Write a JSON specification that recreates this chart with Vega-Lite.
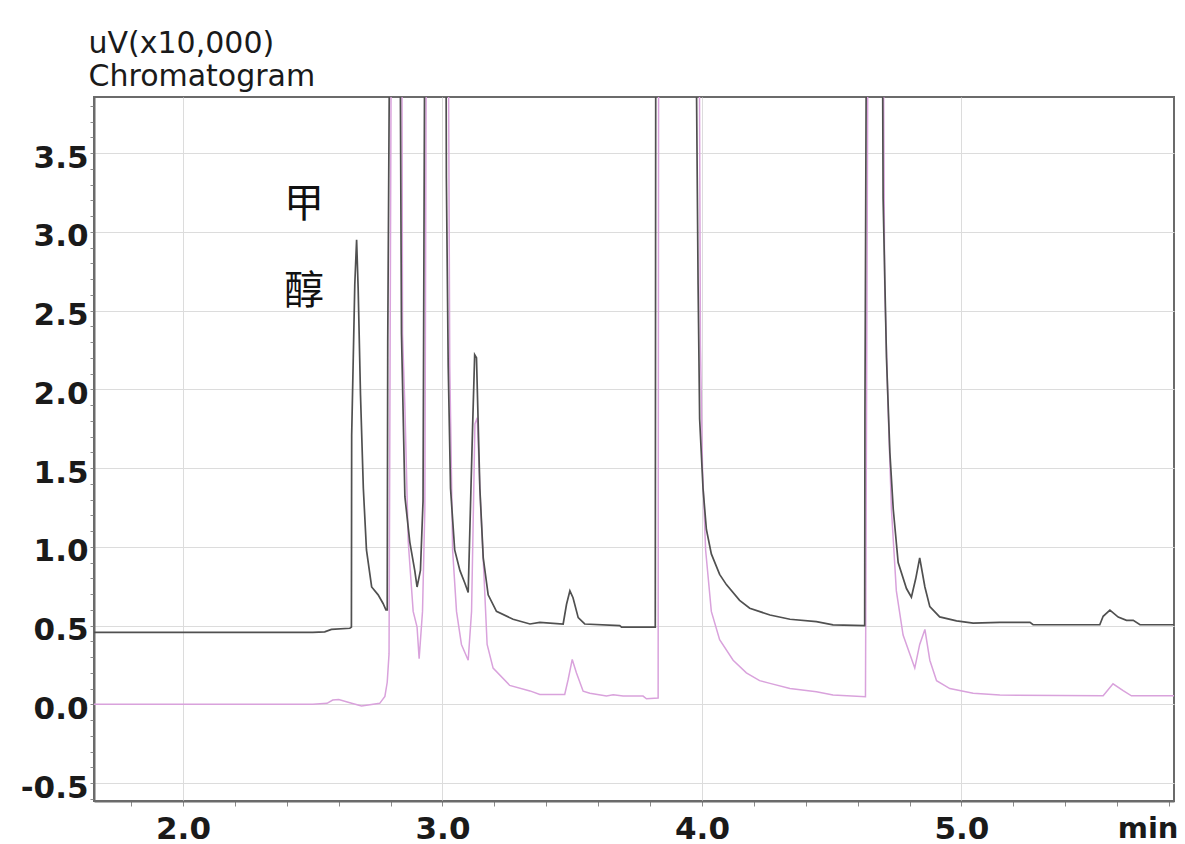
{
  "$schema": "https://vega.github.io/schema/vega-lite/v6.json",
  "autosize": {"type": "none"},
  "width": 1080,
  "height": 704,
  "padding": {"left": 94, "top": 97, "right": 11, "bottom": 43},
  "background": "white",
  "datasets": {
    "sample": [
      {"t": 1.657, "v": 0.457}, {"t": 2.5, "v": 0.457}, {"t": 2.546, "v": 0.46}, {"t": 2.572, "v": 0.476},
      {"t": 2.643, "v": 0.483}, {"t": 2.649, "v": 0.49}, {"t": 2.65, "v": 1.706}, {"t": 2.662, "v": 2.665},
      {"t": 2.669, "v": 2.95}, {"t": 2.675, "v": 2.64}, {"t": 2.684, "v": 1.965}, {"t": 2.695, "v": 1.37},
      {"t": 2.707, "v": 0.98}, {"t": 2.727, "v": 0.745}, {"t": 2.752, "v": 0.695}, {"t": 2.771, "v": 0.64},
      {"t": 2.782, "v": 0.6}, {"t": 2.787, "v": 0.6}, {"t": 2.789, "v": 2.3}, {"t": 2.797, "v": 4.5},
      {"t": 2.816, "v": 8}, {"t": 2.836, "v": 4.5}, {"t": 2.842, "v": 2.35}, {"t": 2.855, "v": 1.32},
      {"t": 2.874, "v": 1.03}, {"t": 2.893, "v": 0.85}, {"t": 2.902, "v": 0.745}, {"t": 2.915, "v": 0.85},
      {"t": 2.925, "v": 1.29}, {"t": 2.932, "v": 4.5}, {"t": 2.97, "v": 8}, {"t": 3.013, "v": 4.5},
      {"t": 3.015, "v": 3.34}, {"t": 3.022, "v": 2.15}, {"t": 3.031, "v": 1.37}, {"t": 3.047, "v": 0.98},
      {"t": 3.067, "v": 0.85}, {"t": 3.086, "v": 0.77}, {"t": 3.099, "v": 0.71}, {"t": 3.116, "v": 1.76},
      {"t": 3.124, "v": 2.22}, {"t": 3.131, "v": 2.2}, {"t": 3.144, "v": 1.37}, {"t": 3.157, "v": 0.93},
      {"t": 3.176, "v": 0.695}, {"t": 3.208, "v": 0.59}, {"t": 3.272, "v": 0.54}, {"t": 3.337, "v": 0.51},
      {"t": 3.375, "v": 0.52}, {"t": 3.465, "v": 0.51}, {"t": 3.478, "v": 0.635}, {"t": 3.491, "v": 0.72},
      {"t": 3.503, "v": 0.677}, {"t": 3.523, "v": 0.55}, {"t": 3.548, "v": 0.51}, {"t": 3.683, "v": 0.5},
      {"t": 3.69, "v": 0.49}, {"t": 3.82, "v": 0.49}, {"t": 3.822, "v": 4.5}, {"t": 3.9, "v": 8},
      {"t": 3.976, "v": 4.5}, {"t": 3.985, "v": 2.665}, {"t": 3.991, "v": 1.81}, {"t": 4.004, "v": 1.37},
      {"t": 4.017, "v": 1.11}, {"t": 4.036, "v": 0.955}, {"t": 4.068, "v": 0.825}, {"t": 4.094, "v": 0.76},
      {"t": 4.145, "v": 0.66}, {"t": 4.184, "v": 0.61}, {"t": 4.262, "v": 0.567}, {"t": 4.339, "v": 0.54},
      {"t": 4.441, "v": 0.525}, {"t": 4.505, "v": 0.504}, {"t": 4.627, "v": 0.5}, {"t": 4.628, "v": 1.85},
      {"t": 4.634, "v": 4.5}, {"t": 4.66, "v": 8}, {"t": 4.695, "v": 4.5}, {"t": 4.698, "v": 3.21},
      {"t": 4.711, "v": 2.2}, {"t": 4.724, "v": 1.6}, {"t": 4.737, "v": 1.24}, {"t": 4.756, "v": 0.9},
      {"t": 4.788, "v": 0.735}, {"t": 4.807, "v": 0.68}, {"t": 4.824, "v": 0.8}, {"t": 4.839, "v": 0.93},
      {"t": 4.859, "v": 0.745}, {"t": 4.878, "v": 0.62}, {"t": 4.916, "v": 0.555}, {"t": 4.981, "v": 0.53},
      {"t": 5.045, "v": 0.515}, {"t": 5.148, "v": 0.52}, {"t": 5.264, "v": 0.52}, {"t": 5.276, "v": 0.505},
      {"t": 5.533, "v": 0.505}, {"t": 5.546, "v": 0.559}, {"t": 5.572, "v": 0.598}, {"t": 5.604, "v": 0.554},
      {"t": 5.636, "v": 0.533}, {"t": 5.662, "v": 0.533}, {"t": 5.688, "v": 0.505}, {"t": 5.82, "v": 0.505}
    ],
    "standard": [
      {"t": 1.657, "v": 0.0}, {"t": 2.5, "v": 0.0}, {"t": 2.555, "v": 0.006}, {"t": 2.577, "v": 0.027},
      {"t": 2.6, "v": 0.03}, {"t": 2.643, "v": 0.01}, {"t": 2.688, "v": -0.01}, {"t": 2.758, "v": 0.006},
      {"t": 2.778, "v": 0.05}, {"t": 2.787, "v": 0.14}, {"t": 2.794, "v": 0.32}, {"t": 2.803, "v": 4.5},
      {"t": 2.823, "v": 8}, {"t": 2.843, "v": 4.5}, {"t": 2.846, "v": 2.35}, {"t": 2.855, "v": 1.89},
      {"t": 2.868, "v": 1.03}, {"t": 2.887, "v": 0.59}, {"t": 2.902, "v": 0.49}, {"t": 2.91, "v": 0.29},
      {"t": 2.923, "v": 0.59}, {"t": 2.932, "v": 1.24}, {"t": 2.938, "v": 4.5}, {"t": 2.98, "v": 8},
      {"t": 3.022, "v": 4.5}, {"t": 3.028, "v": 2.15}, {"t": 3.039, "v": 0.98}, {"t": 3.054, "v": 0.59},
      {"t": 3.073, "v": 0.38}, {"t": 3.099, "v": 0.28}, {"t": 3.112, "v": 0.59}, {"t": 3.125, "v": 1.78},
      {"t": 3.134, "v": 1.82}, {"t": 3.144, "v": 1.37}, {"t": 3.159, "v": 0.85}, {"t": 3.172, "v": 0.38},
      {"t": 3.195, "v": 0.23}, {"t": 3.259, "v": 0.12}, {"t": 3.337, "v": 0.085}, {"t": 3.375, "v": 0.0625},
      {"t": 3.471, "v": 0.0625}, {"t": 3.484, "v": 0.156}, {"t": 3.5, "v": 0.285}, {"t": 3.516, "v": 0.2},
      {"t": 3.542, "v": 0.083}, {"t": 3.568, "v": 0.07}, {"t": 3.632, "v": 0.052}, {"t": 3.658, "v": 0.06},
      {"t": 3.696, "v": 0.052}, {"t": 3.773, "v": 0.052}, {"t": 3.786, "v": 0.035}, {"t": 3.831, "v": 0.04},
      {"t": 3.833, "v": 4.5}, {"t": 3.91, "v": 8}, {"t": 3.989, "v": 4.5}, {"t": 3.994, "v": 2.28},
      {"t": 4.002, "v": 1.5}, {"t": 4.014, "v": 0.98}, {"t": 4.036, "v": 0.59}, {"t": 4.068, "v": 0.41},
      {"t": 4.12, "v": 0.28}, {"t": 4.171, "v": 0.2}, {"t": 4.222, "v": 0.15}, {"t": 4.262, "v": 0.133},
      {"t": 4.339, "v": 0.1}, {"t": 4.441, "v": 0.08}, {"t": 4.505, "v": 0.059}, {"t": 4.63, "v": 0.048},
      {"t": 4.64, "v": 4.5}, {"t": 4.67, "v": 8}, {"t": 4.698, "v": 4.5}, {"t": 4.704, "v": 2.665},
      {"t": 4.717, "v": 1.89}, {"t": 4.73, "v": 1.24}, {"t": 4.749, "v": 0.72}, {"t": 4.775, "v": 0.44},
      {"t": 4.82, "v": 0.23}, {"t": 4.839, "v": 0.38}, {"t": 4.859, "v": 0.475}, {"t": 4.878, "v": 0.28},
      {"t": 4.904, "v": 0.15}, {"t": 4.955, "v": 0.1}, {"t": 5.045, "v": 0.07}, {"t": 5.148, "v": 0.059},
      {"t": 5.546, "v": 0.054}, {"t": 5.584, "v": 0.13}, {"t": 5.623, "v": 0.087}, {"t": 5.655, "v": 0.054},
      {"t": 5.82, "v": 0.054}
    ],
    "labels": [
      {"t": 2.466, "v": 3.17, "txt": "甲"},
      {"t": 2.466, "v": 2.62, "txt": "醇"}
    ]
  },
  "encoding": {
    "x": {
      "field": "t", "type": "quantitative",
      "scale": {"domain": [1.657, 5.819], "nice": false, "zero": false},
      "axis": {
        "values": [1.8, 2.0, 2.2, 2.4, 2.6, 2.8, 3.0, 3.2, 3.4, 3.6, 3.8, 4.0, 4.2, 4.4, 4.6, 4.8, 5.0, 5.2, 5.4, 5.6, 5.8],
        "labelExpr": "abs(datum.value - round(datum.value)) < 0.001 ? format(datum.value, '.1f') : ''",
        "gridOpacity": {"condition": {"test": "abs(datum.value - round(datum.value)) < 0.001", "value": 1}, "value": 0},
        "tickSize": 5,
        "labelPadding": 8,
        "labelFlush": false,
        "labelOverlap": false,
        "title": "min",
        "titleFont": "DejaVu Sans", "titleFontWeight": "bold", "titleFontSize": 29, "titleColor": "#1a1a1a",
        "titleAnchor": "end", "titleAlign": "right", "titleBaseline": "alphabetic",
        "titleX": 1084, "titleY": 36
      }
    },
    "y": {
      "field": "v", "type": "quantitative",
      "scale": {"domain": [-0.614, 3.856], "nice": false, "zero": false},
      "axis": {
        "values": [-0.6, -0.5, -0.4, -0.3, -0.2, -0.1, 0.0, 0.1, 0.2, 0.3, 0.4, 0.5, 0.6, 0.7, 0.8, 0.9, 1.0, 1.1, 1.2, 1.3, 1.4, 1.5, 1.6, 1.7, 1.8, 1.9, 2.0, 2.1, 2.2, 2.3, 2.4, 2.5, 2.6, 2.7, 2.8, 2.9, 3.0, 3.1, 3.2, 3.3, 3.4, 3.5, 3.6, 3.7, 3.8],
        "labelExpr": "abs(datum.value * 2 - round(datum.value * 2)) < 0.001 ? (datum.value < 0 ? '-' + format(-datum.value, '.1f') : format(datum.value, '.1f')) : ''",
        "gridOpacity": {"condition": {"test": "abs(datum.value * 2 - round(datum.value * 2)) < 0.001", "value": 1}, "value": 0},
        "tickSize": 4,
        "labelPadding": 2,
        "labelOffset": 5,
        "labelFlush": false,
        "labelOverlap": false,
        "title": ["uV(x10,000)", "\u00a0Chromatogram"],
        "titleAngle": 0, "titleAlign": "left", "titleBaseline": "alphabetic",
        "titleLineHeight": 33,
        "titleX": -6, "titleY": -45,
        "titleFont": "DejaVu Sans", "titleFontWeight": "normal", "titleFontSize": 30, "titleColor": "#1a1a1a"
      }
    }
  },
  "layer": [
    {"data": {"name": "standard"}, "mark": {"type": "line", "color": "#d9a2dc", "strokeWidth": 1.5, "clip": true}},
    {"data": {"name": "sample"}, "mark": {"type": "line", "color": "#505050", "strokeWidth": 1.7, "clip": true}},
    {"data": {"name": "labels"}, "mark": {"type": "text", "font": "Noto Sans CJK SC", "fontSize": 40, "color": "#111111", "align": "center", "baseline": "middle"}, "encoding": {"text": {"field": "txt"}}}
  ],
  "config": {
    "view": {"stroke": "#6b6b6b", "strokeWidth": 2},
    "axis": {
      "domainColor": "#6b6b6b", "domainWidth": 2,
      "gridColor": "#dcdcdc", "gridWidth": 1,
      "tickColor": "#8a8a8a", "tickWidth": 1,
      "labelFont": "DejaVu Sans", "labelFontWeight": "bold", "labelFontSize": 31, "labelColor": "#1a1a1a"
    }
  }
}
